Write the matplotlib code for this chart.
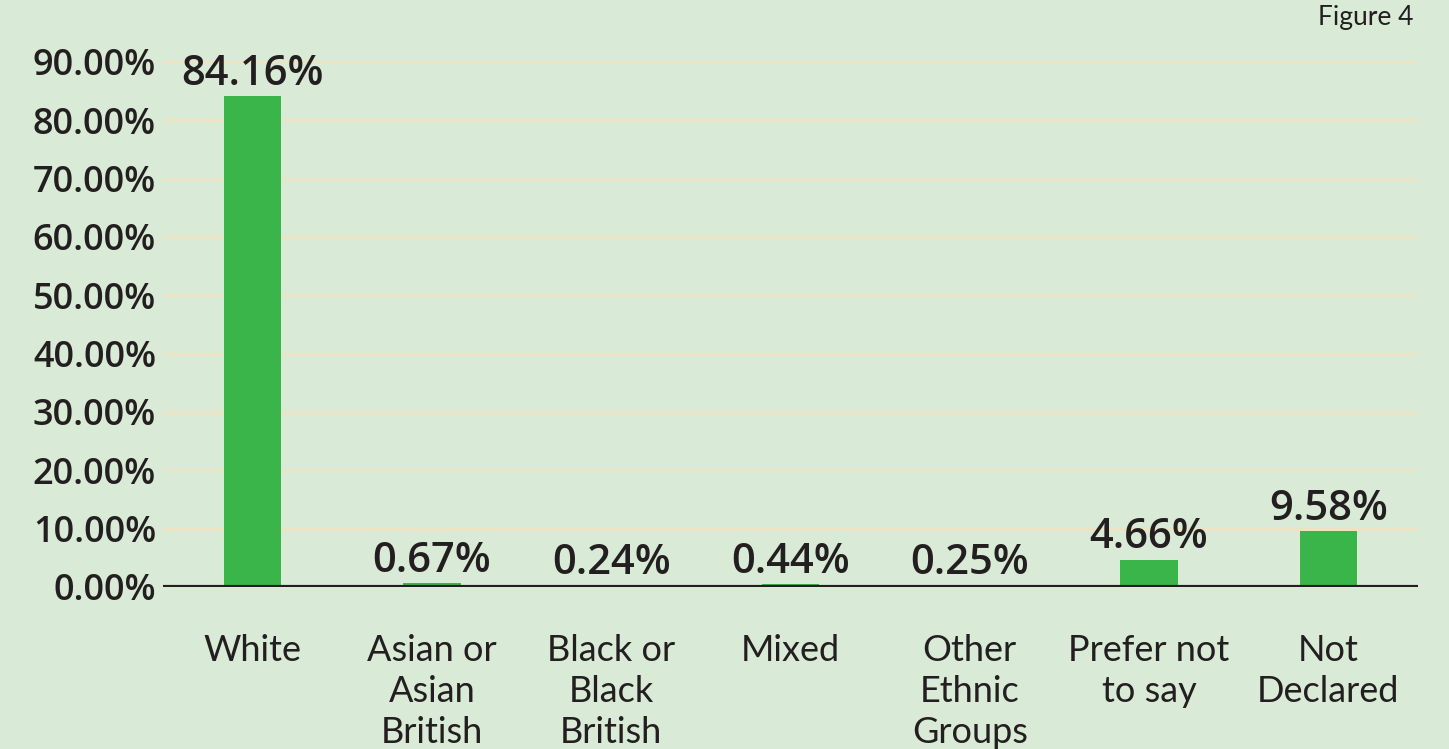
import matplotlib.pyplot as plt
import numpy as np

# data
categories = ['White', 'Asian or\nAsian\nBritish', 'Black or\nBlack\nBritish', 'Mixed',
              'Other\nEthnic\nGroups', 'Prefer not\nto say', 'Not\nDeclared']
values = [84.16, 0.67, 0.24, 0.44, 0.25, 4.66, 9.58]
yticks = np.arange(0, 100, 10)

bg = '#d9ead6'
bar_col = '#3ab54a'
grid_col = '#ede4c3'
txt = '#231f20'

fig = plt.figure(figsize=(14.49, 7.49), dpi=100, facecolor=bg)
ax = fig.add_axes([0.1125, 0.2163, 0.8661, 0.7166])
ax.set_facecolor(bg)

x = np.arange(len(categories))
bars = ax.bar(x, values, width=0.32, color=bar_col, zorder=3)

ax.set_xlim(-0.5, len(categories) - 0.5)
ax.set_ylim(0, 92)

# gridlines
for t in yticks[1:]:
    ax.axhline(t, color=grid_col, lw=2, zorder=1)
ax.axhline(0, color=txt, lw=3, zorder=4)

for s in ax.spines.values():
    s.set_visible(False)

ax.set_yticks(yticks)
ax.set_yticklabels(['%.2f%%' % t for t in yticks], fontsize=26, fontweight='semibold',
                   color=txt, family='Open Sans')
ax.tick_params(axis='y', length=0, pad=5)

ax.set_xticks(x)
ax.set_xticklabels(categories, fontsize=26, color=txt, family='Lato',
                   linespacing=1.3, va='top')
ax.tick_params(axis='x', length=0, pad=34)

for b, v in zip(bars, values):
    ax.annotate('%.2f%%' % v, (b.get_x() + b.get_width() / 2, v),
                xytext=(0, 1), textcoords='offset points', ha='center', va='bottom',
                fontsize=30, fontweight='semibold', color=txt, family='Open Sans')

fig.text(1414 / 1449, 1 - 18 / 749, 'Figure 4', ha='right', va='center',
         fontsize=19, color=txt, family='Lato')

fig.savefig('out.png', dpi=100, facecolor=bg)
